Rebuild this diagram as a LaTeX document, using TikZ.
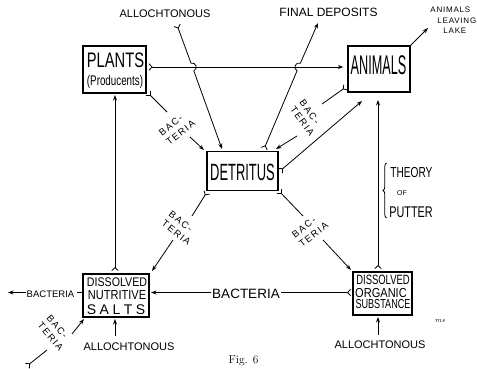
\documentclass[tikz,border=0pt]{standalone}
\usepackage{fontspec}
\usetikzlibrary{arrows.meta,calc,decorations.pathreplacing}
\newfontfamily\hw{Liberation Sans}
\newfontfamily\hwn[FakeStretch=0.85]{Liberation Sans}
\newfontfamily\hwp[FakeStretch=0.7]{Liberation Sans}
\newfontfamily\hwd[FakeStretch=0.55]{Liberation Sans}
\newfontfamily\hwa[FakeStretch=0.47]{Liberation Sans}
\newfontfamily\hws[LetterSpace=15]{Liberation Sans}
\newfontfamily\hwt[LetterSpace=10]{Liberation Sans}
\newcommand\fs[2]{\fontsize{#1}{#2}\selectfont}
\begin{document}
\begin{tikzpicture}[x=1pt,y=-1pt,line width=0.8pt,
  box/.style={draw,line width=1.3pt,inner sep=0pt},
  txt/.style={inner sep=0pt},
  bac/.style={inner sep=0pt,align=left,font=\hws\fs{9.5}{11.5}},
  arr/.style={-{Stealth[length=5.5pt,width=4pt]}},
  frk/.style={{Straight Barb[reversed,length=3pt,width=6.5pt]}-},
  frkarr/.style={{Straight Barb[reversed,length=3pt,width=6.5pt]}-{Stealth[length=5.5pt,width=4pt]}}]
\useasboundingbox (0,0) rectangle (477,369);

% boxes
\node[box,minimum width=63pt,minimum height=47pt] (plants) at (114.5,69.5) {};
\node[txt,anchor=base,font=\hwp\fs{21}{21}] (plantsT) at (115.5,67) {PLANTS};
\node[txt,anchor=base,font=\hwp\fs{14}{14}] (prodT) at (115,86) {(Producents)};

\node[box,minimum width=62pt,minimum height=46pt] (animals) at (379,69) {};
\node[txt,anchor=base,font=\hwa\fs{27}{27}] (animalsT) at (378.5,75) {ANIMALS};

\node[box,minimum width=71pt,minimum height=39pt] (det) at (242.5,171) {};
\node[txt,anchor=base,font=\hwd\fs{23.5}{24}] (detT) at (242.5,180) {DETRITUS};

\node[box,minimum width=66pt,minimum height=43pt] (dns) at (116,295.5) {};
\node[txt,anchor=base,font=\hwn\fs{12.5}{13}] (dns1) at (117,286) {DISSOLVED};
\node[txt,anchor=base,font=\hwn\fs{13}{13}] (dns2) at (117,299) {NUTRITIVE};
\node[txt,anchor=base,font=\hw\fs{14}{14}] (dns3) at (116,314) {S\hspace{3.5pt}A\hspace{3.5pt}L\hspace{3.5pt}T\hspace{3.5pt}S};

\node[box,minimum width=59pt,minimum height=43pt] (dos) at (382.5,293.5) {};
\node[txt,anchor=base,font=\hwp\fs{13.5}{14}] (dos1) at (383,284) {DISSOLVED};
\node[txt,anchor=base,font=\hwn\fs{13}{13}] (dos2) at (381,297) {ORGANIC};
\node[txt,anchor=base,font=\hwp\fs{13}{13}] (dos3) at (383,308.5) {SUBSTANCE};

% free labels
\node[txt,anchor=base,font=\hw\fs{11}{11}] (allo1) at (165,18) {ALLOCHTONOUS};
\node[txt,anchor=base,font=\hw\fs{12}{12}] (final) at (328.5,17) {FINAL DEPOSITS};
\node[txt,anchor=base west,font=\hwt\fs{8}{8}] (leave1) at (430,13) {ANIMALS};
\node[txt,anchor=base west,font=\hwt\fs{8}{8}] (leave2) at (437,23.5) {LEAVING};
\node[txt,anchor=base west,font=\hwt\fs{8}{8}] (leave3) at (443,34) {LAKE};

\node[bac,rotate=38] (b1) at (177,128) {BAC-\\TERIA};
\node[bac,rotate=-54] (b2) at (307,118) {BAC-\\TERIA};
\node[bac,rotate=-38] (b3) at (180,228) {BAC-\\TERIA};
\node[bac,rotate=37] (b4) at (310,230) {BAC-\\TERIA};
\node[bac,rotate=-50] (b5) at (55,333) {BAC-\\TERIA};

\node[txt,anchor=base,font=\hw\fs{13.5}{14}] (bacm) at (246,298.5) {BACTERIA};
\node[txt,anchor=base,font=\hw\fs{9.5}{10}] (bacl) at (50.5,297.5) {BACTERIA};
\node[txt,anchor=base,font=\hw\fs{11}{11}] (allo2) at (129,350) {ALLOCHTONOUS};
\node[txt,anchor=base,font=\hw\fs{11}{11}] (allo3) at (380,348) {ALLOCHTONOUS};

\node[txt,anchor=base west,font=\hwp\fs{14.5}{15}] (th1) at (390,177) {THEORY};
\node[txt,anchor=base,font=\hw\fs{7}{7}] (th2) at (402,195) {OF};
\node[txt,anchor=base west,font=\hwp\fs{15.5}{16}] (th3) at (389,217) {PUTTER};
\coordinate (brb) at (386.5,218);
\coordinate (brt) at (386.5,163);
\draw[decorate,decoration={brace,amplitude=3.5pt}] (brb) -- (brt);

\node[txt,anchor=base,font=\fs{11.5}{12}] (fig) at (243.5,363) {Fig. 6};
\node[txt,anchor=base,font=\itshape\fs{7}{7}] (sig) at (440,322) {ms};

% coordinates for connector ends
\coordinate (a1s) at (177,25);
\coordinate (h1a) at (191.0,63.2);
\coordinate (h1b) at (193.8,70.8);
\coordinate (a1e) at (222,149);
\coordinate (f1s) at (264,149);
\coordinate (h2a) at (297.1,70.7);
\coordinate (h2b) at (300.3,63.3);
\coordinate (f1e) at (318,23);
\coordinate (ll) at (428,28);

% PLANTS -> ANIMALS
\draw[frkarr] ([xshift=2pt,yshift=2.5pt]plants.east) -- ([xshift=-4pt,yshift=2pt]animals.west);
% ALLOCHTONOUS -> DETRITUS with hop
\draw[frkarr] (a1s) -- (h1a) .. controls (195.7,61.5) and (198.5,69.1) .. (h1b) -- (a1e);
% DETRITUS -> FINAL DEPOSITS with hop
\draw[frkarr] (f1s) -- (h2a) .. controls (292.5,68.7) and (295.7,61.3) .. (h2b) -- (f1e);
% ANIMALS -> leaving lake
\draw[arr] ([xshift=-1pt,yshift=-1pt]animals.north east) -- (ll);

% PLANTS -> DETRITUS (bacteria)
\coordinate (p1a) at (148,93); \coordinate (p1b) at (167,112);
\coordinate (p1c) at (190,137); \coordinate (p1d) at (204,150);
\draw[frk] (p1a) -- (p1b);
\draw[arr] (p1c) -- (p1d);
% ANIMALS -> DETRITUS (bacteria)
\coordinate (q1a) at (346,87); \coordinate (q1b) at (322,104);
\coordinate (q1c) at (297,136); \coordinate (q1d) at (276,149);
\draw[frk] (q1a) -- (q1b);
\draw[arr] (q1c) -- (q1d);
% DETRITUS -> ANIMALS
\coordinate (r1a) at (280,171); \coordinate (r1b) at (362,101);
\draw[frkarr] (r1a) -- (r1b);
% DOS -> ANIMALS
\coordinate (s1a) at (378,269); \coordinate (s1b) at (378,100);
\draw[frkarr] (s1a) -- (s1b);
% DETRITUS -> DNS (bacteria)
\coordinate (t1a) at (207,192); \coordinate (t1b) at (192,216);
\coordinate (t1c) at (173,240); \coordinate (t1d) at (152,271);
\draw[frk] (t1a) -- (t1b);
\draw[arr] (t1c) -- (t1d);
% DETRITUS -> DOS (bacteria)
\coordinate (u1a) at (279,191); \coordinate (u1b) at (303,216);
\coordinate (u1c) at (323,240); \coordinate (u1d) at (351,270);
\draw[frk] (u1a) -- (u1b);
\draw[arr] (u1c) -- (u1d);
% DOS -> DNS (bacteria)
\coordinate (v1a) at (351,292.5); \coordinate (v1b) at (281,292.5);
\coordinate (v1c) at (211,292.5); \coordinate (v1d) at (151,292.5);
\draw[frk] (v1a) -- (v1b);
\draw[arr] (v1c) -- (v1d);
% DNS -> left bacteria
\coordinate (w1a) at (77,292.5); \coordinate (w1b) at (26,292.5); \coordinate (w1c) at (8,292.5);
\draw ([yshift=3pt]dns.west) -- (w1a);
\draw[arr] (w1b) -- (w1c);
% bottom-left bacteria -> DNS
\coordinate (x1a) at (27,366); \coordinate (x1b) at (47,350);
\coordinate (x1c) at (72,334); \coordinate (x1d) at (84,319);
\draw[frk] (x1a) -- (x1b);
\draw[arr] (x1c) -- (x1d);
% DNS -> PLANTS
\coordinate (y1a) at (115,271); \coordinate (y1b) at (115,95);
\draw[frkarr] (y1a) -- (y1b);
% allochtonous bottom
\coordinate (z1a) at (115,336); \coordinate (z1b) at (115,319);
\draw[arr] (z1a) -- (z1b);
\coordinate (z2a) at (378,335); \coordinate (z2b) at (378,317);
\draw[arr] (z2a) -- (z2b);
\end{tikzpicture}
\end{document}
